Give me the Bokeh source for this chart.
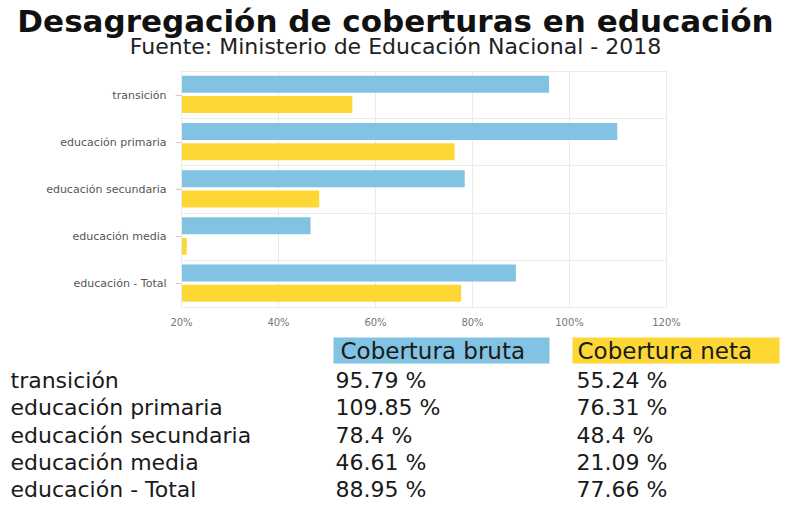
from bokeh.plotting import figure
from bokeh.models import FixedTicker, Range1d, ColumnDataSource
from bokeh.embed import file_html
from bokeh.resources import INLINE
from bokeh.core.properties import value
from bokeh.transform import dodge

# ---------------- data ----------------
categories = ["transición", "educación primaria", "educación secundaria",
              "educación media", "educación - Total"]
cobertura_bruta = [95.79, 109.85, 78.4, 46.61, 88.95]
cobertura_neta = [55.24, 76.31, 48.4, 21.09, 77.66]
series_names = ["Cobertura bruta", "Cobertura neta"]
x_ticks = [20, 40, 60, 80, 100, 120]
x_tick_labels = ["20%", "40%", "60%", "80%", "100%", "120%"]
title_text = "Desagregación de coberturas en educación"
subtitle_text = "Fuente: Ministerio de Educación Nacional - 2018"

# ---------------- styles ----------------
W = 787
BLUE = "#82c2e3"
YELLOW = "#fdd835"
GRID = "#ebebeb"
FONT = "DejaVu Sans"
TXT = "#1a1a1a"


def blank(height):
    f = figure(width=W, height=height, x_range=Range1d(0, W),
               y_range=Range1d(height, 0), toolbar_location=None,
               output_backend="svg", min_border=0)
    f.axis.visible = False
    f.grid.visible = False
    f.outline_line_color = None
    return f


# ---------------- header (page y 0..64) ----------------
H1 = 64
head = blank(H1)
head.text(x=[395], y=[20], text=[title_text], text_font=value(FONT),
          text_font_style="bold", text_font_size="31px", text_align="center",
          text_baseline="middle", text_color="#111111")
head.text(x=[395], y=[46], text=[subtitle_text], text_font=value(FONT),
          text_font_size="22px", text_align="center", text_baseline="middle",
          text_color="#222222")

# ---------------- chart (page y 64..334) ----------------
n = len(categories)
centers = [n - i - 0.5 for i in range(n)]
src = ColumnDataSource(dict(y=centers, cat=categories,
                            bruta=cobertura_bruta, neta=cobertura_neta))

FL, FW, FH = 181, 485, 236
p = figure(frame_width=FW, frame_height=FH,
           x_range=Range1d(x_ticks[0], x_ticks[-1]), y_range=Range1d(0, n),
           toolbar_location=None, output_backend="svg",
           min_border_left=FL, min_border_right=W - FL - FW,
           min_border_top=7, min_border_bottom=27)
p.outline_line_color = GRID

p.hbar(y=dodge("y", 0.23, range=p.y_range), left=0, right="bruta", height=0.36,
       source=src, fill_color=BLUE, line_color=None)
p.hbar(y=dodge("y", -0.2, range=p.y_range), left=0, right="neta", height=0.36,
       source=src, fill_color=YELLOW, line_color=None)

p.xaxis.ticker = FixedTicker(ticks=x_ticks)
p.xaxis.major_label_overrides = {t: l for t, l in zip(x_ticks, x_tick_labels)}
p.xaxis.axis_line_color = None
p.xaxis.major_tick_line_color = None
p.xaxis.major_tick_out = 0
p.xaxis.major_tick_in = 0
p.xaxis.minor_tick_line_color = None
p.xaxis.minor_tick_out = 0
p.xaxis.major_label_standoff = 9
p.xaxis.major_label_text_font = FONT
p.xaxis.major_label_text_font_size = "10px"
p.xaxis.major_label_text_color = "#777777"

p.yaxis.ticker = FixedTicker(ticks=centers)
p.yaxis.major_label_overrides = {c: lab for c, lab in zip(centers, categories)}
p.yaxis.axis_line_color = GRID
p.yaxis.major_tick_line_color = "#cccccc"
p.yaxis.major_tick_out = 6
p.yaxis.major_tick_in = 0
p.yaxis.minor_tick_line_color = None
p.yaxis.major_label_standoff = 9
p.yaxis.major_label_text_font = FONT
p.yaxis.major_label_text_font_size = "11px"
p.yaxis.major_label_text_color = "#555555"

p.xgrid.ticker = FixedTicker(ticks=x_ticks)
p.xgrid.grid_line_color = GRID
p.ygrid.ticker = FixedTicker(ticks=list(range(1, n)))
p.ygrid.grid_line_color = GRID

# ---------------- table (page y 334..505) ----------------
Y0 = 334
H3 = 505 - Y0
t = blank(H3)
t.quad(left=[333, 572], right=[549, 779], top=[337 - Y0] * 2,
       bottom=[363 - Y0] * 2, fill_color=[BLUE, YELLOW], line_color=None)
t.text(x=[340, 577], y=[350 - Y0] * 2, text=series_names,
       text_font=value(FONT), text_font_size="23px",
       text_baseline="middle", text_color=TXT)

row_y = [380 + 27.3 * i - Y0 for i in range(n)]
for xs, labels in ((10, categories),
                   (335, [f"{v} %" for v in cobertura_bruta]),
                   (576, [f"{v} %" for v in cobertura_neta])):
    t.text(x=[xs] * n, y=row_y, text=labels, text_font=value(FONT),
           text_font_size="22px", text_baseline="middle", text_color=TXT)

open("out.html", "w").write(file_html([head, p, t], INLINE))
